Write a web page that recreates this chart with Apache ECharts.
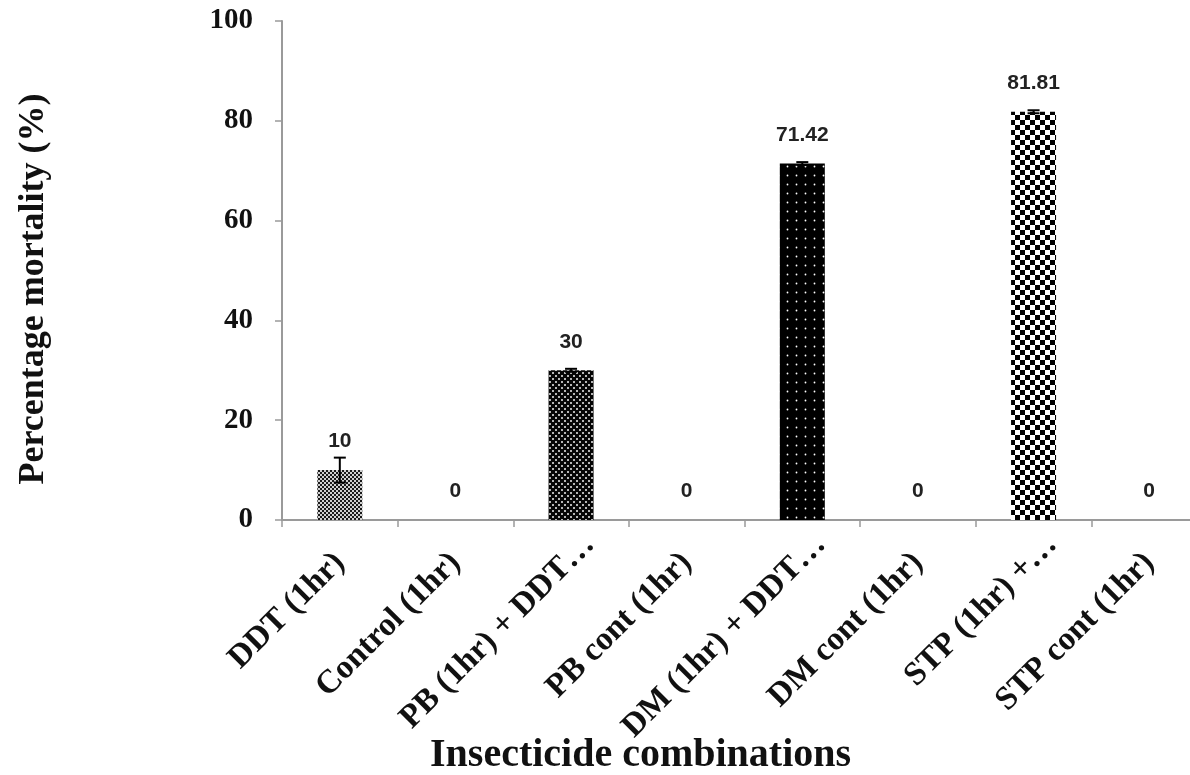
<!DOCTYPE html>
<html>
<head>
<meta charset="utf-8">
<script src="https://cdn.jsdelivr.net/npm/echarts@6.0.0/dist/echarts.min.js"></script>
<style>
html,body{margin:0;padding:0;background:#fff;overflow:hidden;}
#chart{width:1190px;height:775px;}
</style>
</head>
<body>
<div id="chart"></div>
<script>
const categories = ['DDT (1hr)', 'Control (1hr)', 'PB (1hr) + DDT…', 'PB cont (1hr)', 'DM (1hr) + DDT…', 'DM cont (1hr)', 'STP (1hr) +…', 'STP cont (1hr)'];
const mortality = [10, 0, 30, 0, 71.42, 0, 81.81, 0];
const errors = [2.5, 0, 0.3, 0, 0.3, 0, 0.3, 0];
const valueLabels = ['10', '0', '30', '0', '71.42', '0', '81.81', '0'];
const yTicks = [0, 20, 40, 60, 80, 100];
const patternKinds = ['fine', 'none', 'cross', 'none', 'dots', 'none', 'check', 'none'];

function makePattern(kind) {
  const c = document.createElement('canvas');
  let ctx;
  if (kind === 'fine') {
    c.width = 4; c.height = 4; ctx = c.getContext('2d');
    ctx.fillStyle = '#d0d0d0'; ctx.fillRect(0, 0, 4, 4);
    ctx.fillStyle = '#1a1a1a';
    ctx.fillRect(0, 0, 2, 2); ctx.fillRect(2, 2, 2, 2);
  } else if (kind === 'cross') {
    c.width = 6; c.height = 6; ctx = c.getContext('2d');
    ctx.fillStyle = '#050505'; ctx.fillRect(0, 0, 6, 6);
    ctx.fillStyle = '#b5b5b5';
    ctx.fillRect(0, 0, 2, 2); ctx.fillRect(3, 3, 2, 2);
  } else if (kind === 'dots') {
    c.width = 9; c.height = 9; ctx = c.getContext('2d');
    ctx.fillStyle = '#000'; ctx.fillRect(0, 0, 9, 9);
    ctx.fillStyle = '#fff';
    ctx.beginPath(); ctx.arc(4.5, 4.5, 0.9, 0, Math.PI * 2); ctx.fill();
  } else {
    c.width = 10; c.height = 10; ctx = c.getContext('2d');
    ctx.fillStyle = '#fff'; ctx.fillRect(0, 0, 10, 10);
    ctx.fillStyle = '#000';
    ctx.fillRect(0, 0, 5, 5); ctx.fillRect(5, 5, 5, 5);
  }
  return { image: c, repeat: 'repeat' };
}

const barData = mortality.map((v, i) => ({
  value: v,
  itemStyle: { color: patternKinds[i] === 'none' ? '#fff' : makePattern(patternKinds[i]) }
}));

// truncated labels sit a little further along their slant in the reference
const categoryData = categories.map(c => c.endsWith('…')
  ? { value: c, textStyle: { padding: [0, -26, 0, 0] } }
  : c);

const errData = mortality.map((v, i) => [i, v, errors[i]]);

const chart = echarts.init(document.getElementById('chart'), null, { renderer: 'canvas' });
chart.setOption({
  animation: false,
  backgroundColor: '#fff',
  grid: { left: 282, top: 21, width: 925, bottom: 255, containLabel: false, outerBoundsMode: 'none' },
  title: {
    text: 'Insecticide combinations',
    left: 425, top: 731,
    textStyle: { fontFamily: 'Liberation Serif', fontWeight: 'bold', fontSize: 40, color: '#111' }
  },
  xAxis: {
    type: 'category',
    data: categoryData,
    axisLine: { lineStyle: { color: '#9a9a9a', width: 2 } },
    axisTick: { show: true, length: 7, lineStyle: { color: '#9a9a9a', width: 1.5 } },
    axisLabel: {
      interval: 0, rotate: 45, margin: 38,
      fontFamily: 'Liberation Serif', fontWeight: 'bold', fontSize: 33, color: '#111'
    }
  },
  yAxis: {
    type: 'value',
    min: 0, max: 100, interval: 20,
    name: 'Percentage mortality (%)',
    nameLocation: 'middle', nameRotate: 90, nameGap: 230,
    nameTextStyle: { fontFamily: 'Liberation Serif', fontWeight: 'bold', fontSize: 36, color: '#111', padding: [0, 37, 0, 0] },
    axisLine: { show: true, lineStyle: { color: '#9a9a9a', width: 2 } },
    axisTick: { show: true, length: 7, lineStyle: { color: '#9a9a9a', width: 1.5 } },
    splitLine: { show: false },
    axisLabel: {
      margin: 29,
      fontFamily: 'Liberation Serif', fontWeight: 'bold', fontSize: 29, color: '#111',
      formatter: v => yTicks.includes(v) ? String(v) : ''
    }
  },
  series: [
    {
      type: 'bar',
      data: barData,
      barWidth: 45,
      label: {
        show: true, position: 'top', distance: 18,
        fontFamily: 'Liberation Sans', fontWeight: 'bold', fontSize: 21, color: '#222',
        formatter: p => valueLabels[p.dataIndex]
      }
    },
    {
      type: 'custom',
      z: 5,
      data: errData,
      renderItem: function (params, api) {
        const i = api.value(0), v = api.value(1), e = api.value(2);
        if (!e) return null;
        const hi = api.coord([i, v + e]);
        const lo = api.coord([i, v - e]);
        const w = 6;
        const style = { stroke: '#000', lineWidth: 2 };
        return {
          type: 'group',
          children: [
            { type: 'line', shape: { x1: hi[0], y1: hi[1], x2: lo[0], y2: lo[1] }, style },
            { type: 'line', shape: { x1: hi[0] - w, y1: hi[1], x2: hi[0] + w, y2: hi[1] }, style },
            { type: 'line', shape: { x1: lo[0] - w, y1: lo[1], x2: lo[0] + w, y2: lo[1] }, style }
          ]
        };
      }
    }
  ]
});
</script>
</body>
</html>
